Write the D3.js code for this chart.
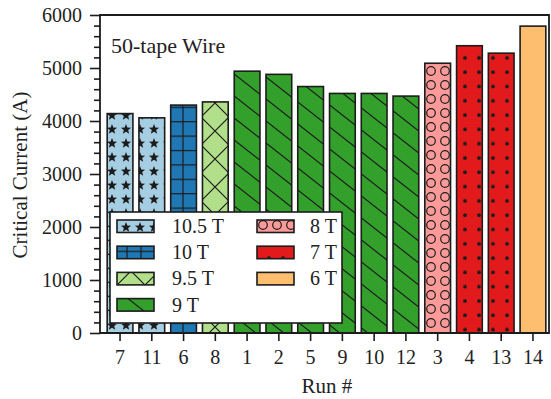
<!DOCTYPE html>
<html>
<head>
<meta charset="utf-8">
<script src="https://cdn.jsdelivr.net/npm/d3@7/dist/d3.min.js"></script>
</head>
<body style="margin:0">
<svg id="chart" width="551" height="399"></svg>
<script>
// Run numbers in plotted order
const runs = ["7", "11", "6", "8", "1", "2", "5", "9", "10", "12", "3", "4", "13", "14"];
// Critical current per run (A)
const currents = [4140, 4060, 4300, 4360, 4940, 4880, 4650, 4520, 4520, 4470, 5090, 5420, 5280, 5790];
// Applied field for each run
const fields = ["10.5 T", "10.5 T", "10 T", "9.5 T", "9 T", "9 T", "9 T", "9 T", "9 T", "9 T", "8 T", "7 T", "7 T", "6 T"];
// Field groups, legend order
const fieldNames = ["10.5 T", "10 T", "9.5 T", "9 T", "8 T", "7 T", "6 T"];
const fieldColors = ["#a6cee3", "#1f78b4", "#b2df8a", "#33a02c", "#fb9a99", "#e31a1c", "#fdbf6f"];
const yTicks = [0, 1000, 2000, 3000, 4000, 5000, 6000];
const title = "50-tape Wire";

const serif = '"Liberation Serif", "Times New Roman"';
const svg = d3.select("#chart").style("display", "block");
const plotL = 100, plotR = 549, plotT = 15, plotB = 333;
const ink = "#1c1c1c";
const textInk = "#222";

const x = d3.scaleBand().domain(runs).range([104, plotR]).paddingInner(0.19).paddingOuter(0.1);
const y = d3.scaleLinear().domain([0, 6000]).range([plotB, plotT]);

// ---- hatch patterns, one per field ----
const defs = svg.append("defs");
function pat(id, w, h, px, py, color) {
  const p = defs.append("pattern").attr("id", id).attr("patternUnits", "userSpaceOnUse")
    .attr("width", w).attr("height", h).attr("x", px).attr("y", py);
  p.append("rect").attr("width", w).attr("height", h).attr("fill", color);
  return p;
}
function starPath(cx, cy, R, r) {
  let d = "";
  for (let i = 0; i < 10; i++) {
    const a = -Math.PI / 2 + i * Math.PI / 5;
    const rr = i % 2 ? r : R;
    d += (i ? "L" : "M") + (cx + rr * Math.cos(a)).toFixed(2) + "," + (cy + rr * Math.sin(a)).toFixed(2);
  }
  return d + "Z";
}
// 10.5 T: stars
{
  const p = pat("f0", 14, 14, 105, 108, fieldColors[0]);
  p.append("path").attr("d", starPath(7, 7.4, 5.4, 2.3)).attr("fill", ink);
}
// 10 T: square grid
{
  const p = pat("f1", 14, 14.4, 176, 100, fieldColors[1]);
  p.append("path").attr("d", "M7,-1V16M-1,7.2H15").attr("stroke", ink).attr("stroke-width", 1.2);
}
// 9.5 T: diagonal cross-hatch
{
  const p = pat("f2", 28, 28, 201, 89, fieldColors[2]);
  p.append("path").attr("d", "M-2,-2L30,30M30,-2L-2,30").attr("stroke", ink).attr("stroke-width", 1.2);
}
// 9 T: back-diagonal lines
{
  const W = 28, H = 22;
  const p = pat("f3", W, H, 0, 0, fieldColors[3]);
  let d = "";
  for (const k of [-1, 0, 1]) d += `M${k * W - W},${-H}L${k * W + 2 * W},${2 * H}`;
  p.append("path").attr("d", d).attr("stroke", ink).attr("stroke-width", 1.2);
}
// 8 T: rings
{
  const p = pat("f4", 14, 14, 424, 50, fieldColors[4]);
  p.append("circle").attr("cx", 7).attr("cy", 7).attr("r", 4.3)
    .attr("fill", "none").attr("stroke", ink).attr("stroke-width", 1.2);
}
// 7 T: dots
{
  const p = pat("f5", 14, 14.3, 458, 51, fieldColors[5]);
  p.append("circle").attr("cx", 7).attr("cy", 7).attr("r", 1.9).attr("fill", ink);
}
// 6 T: plain
pat("f6", 10, 10, 0, 0, fieldColors[6]);

const fillOf = f => `url(#f${fieldNames.indexOf(f)})`;

// ---- bars ----
svg.append("g").selectAll("rect").data(runs).join("rect")
  .attr("x", d => x(d))
  .attr("y", (d, i) => y(currents[i]))
  .attr("width", x.bandwidth())
  .attr("height", (d, i) => y(0) - y(currents[i]))
  .attr("fill", (d, i) => fillOf(fields[i]))
  .attr("stroke", ink).attr("stroke-width", 1.6);

// ---- axes ----
const yAxis = svg.append("g").attr("transform", `translate(${plotL},0)`)
  .call(d3.axisLeft(y).tickValues(yTicks).tickFormat(d3.format("d"))
    .tickSize(10).tickPadding(8).tickSizeOuter(0));
const minor = d3.range(0, 6001, 200).filter(v => v % 1000 !== 0);
svg.append("g").attr("transform", `translate(${plotL},0)`)
  .call(d3.axisLeft(y).tickValues(minor).tickSize(6).tickFormat("").tickSizeOuter(0))
  .select(".domain").remove();
const xAxis = svg.append("g").attr("transform", `translate(0,${plotB})`)
  .call(d3.axisBottom(x).tickSize(8).tickPadding(9).tickSizeOuter(0));
xAxis.select(".domain").remove();
yAxis.select(".domain").remove();
svg.selectAll("g").attr("font-family", null).attr("font-size", null);
svg.selectAll(".tick line").attr("stroke", ink).attr("stroke-width", 1.6);
svg.selectAll(".tick text").attr("font-size", 20).attr("fill", textInk)
  .style("font-family", serif);

// frame
svg.append("path")
  .attr("d", `M${plotL},${plotT}H${plotR}V${plotB}H${plotL}Z`)
  .attr("fill", "none").attr("stroke", ink).attr("stroke-width", 1.8);

// axis titles
svg.append("text").attr("x", 327).attr("y", 393).attr("text-anchor", "middle")
  .attr("font-size", 21).attr("fill", textInk).style("font-family", serif).text("Run #");
svg.append("text").attr("transform", "translate(27,175) rotate(-90)")
  .attr("text-anchor", "middle").attr("font-size", 21).attr("fill", textInk)
  .style("font-family", serif).text("Critical Current (A)");
svg.append("text").attr("x", 111).attr("y", 53).attr("font-size", 22).attr("fill", textInk)
  .style("font-family", serif).text(title);

// ---- legend ----
const lg = svg.append("g");
lg.append("rect").attr("x", 110).attr("y", 212).attr("width", 232).attr("height", 111)
  .attr("fill", "#fff").attr("stroke", ink).attr("stroke-width", 1.6);
fieldNames.forEach((f, i) => {
  const col = i < 4 ? 0 : 1, row = i < 4 ? i : i - 4;
  const sx = col ? 257 : 117, sy = 220 + row * 26.2;
  lg.append("rect").attr("x", sx).attr("y", sy).attr("width", 37).attr("height", 12.5)
    .attr("fill", fillOf(f)).attr("stroke", ink).attr("stroke-width", 1.6);
  lg.append("text").attr("x", col ? 310 : 172).attr("y", sy + 13).attr("font-size", 20)
    .attr("fill", textInk).style("font-family", serif).text(f);
});
</script>
</body>
</html>
